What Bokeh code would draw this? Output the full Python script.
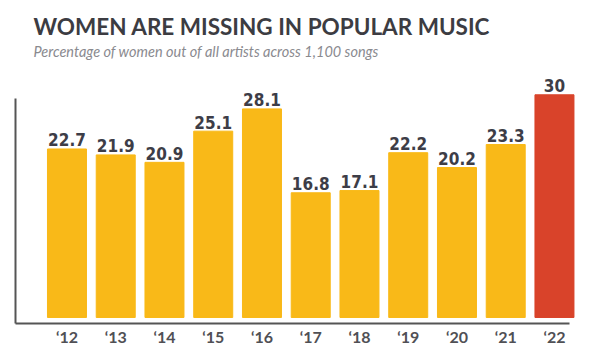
from bokeh.plotting import figure
from bokeh.models import Range1d, FixedTicker, Title, ColumnDataSource
from bokeh.core.properties import value
from bokeh.embed import file_html
from bokeh.resources import INLINE

years = ["‘12", "‘13", "‘14", "‘15", "‘16", "‘17", "‘18", "‘19", "‘20", "‘21", "‘22"]
shares = [22.7, 21.9, 20.9, 25.1, 28.1, 16.8, 17.1, 22.2, 20.2, 23.3, 30]
bar_colors = ["#F9B918"] * 10 + ["#D9432A"]
labels = ["22.7", "21.9", "20.9", "25.1", "28.1", "16.8", "17.1", "22.2", "20.2", "23.3", "30"]

idx = list(range(len(years)))
src = ColumnDataSource(dict(x=idx, y=shares, color=bar_colors, label=labels))

p = figure(width=600, height=355, output_backend="svg", toolbar_location=None,
           x_range=Range1d(-1.056, 10.534), y_range=Range1d(-0.81, 34.35),
           title="WOMEN ARE MISSING IN POPULAR MUSIC",
           min_border_left=15, min_border_right=20, min_border_bottom=32, min_border_top=62)
p.title.text_font = "Lato"
p.title.text_font_style = "bold"
p.title.text_font_size = "22.5px"
p.title.text_color = "#3c3c42"
p.title.offset = 18
p.title.standoff = -3
p.add_layout(Title(text="Percentage of women out of all artists across 1,100 songs",
                   text_font="Lato", text_font_style="italic", text_font_size="14.5px",
                   text_color="#8a8a8f", offset=18, standoff=5), "above")

p.vbar(x="x", top="y", bottom=0, width=0.8, color="color", source=src)
p.text(x="x", y="y", text="label", source=src, text_align="center",
       text_baseline="alphabetic", y_offset=-9,
       text_font=value("DejaVu Sans Condensed, Roboto, sans-serif"), text_font_style="bold",
       text_font_size="17px", text_color="#3d3d47")

p.xgrid.visible = False
p.ygrid.visible = False
p.outline_line_color = None
p.background_fill_color = "white"

xa = p.xaxis[0]
xa.ticker = FixedTicker(ticks=idx)
xa.major_label_overrides = {i: years[i] for i in idx}
xa.major_tick_line_color = None
xa.minor_tick_line_color = None
xa.axis_line_color = "#555555"
xa.axis_line_width = 2
xa.major_label_text_font = "Lato"
xa.major_label_text_font_style = "bold"
xa.major_label_text_font_size = "16px"
xa.major_label_text_color = "#505055"
xa.major_label_standoff = -3
xa.bounds = (-1.056, 10.3)

ya = p.yaxis[0]
ya.bounds = (-0.81, 29.5)
ya.major_tick_line_color = None
ya.minor_tick_line_color = None
ya.major_label_text_font_size = "0px"
ya.major_label_text_color = None
ya.axis_line_color = "#555555"
ya.axis_line_width = 2

open("out.html", "w").write(file_html(p, INLINE))
